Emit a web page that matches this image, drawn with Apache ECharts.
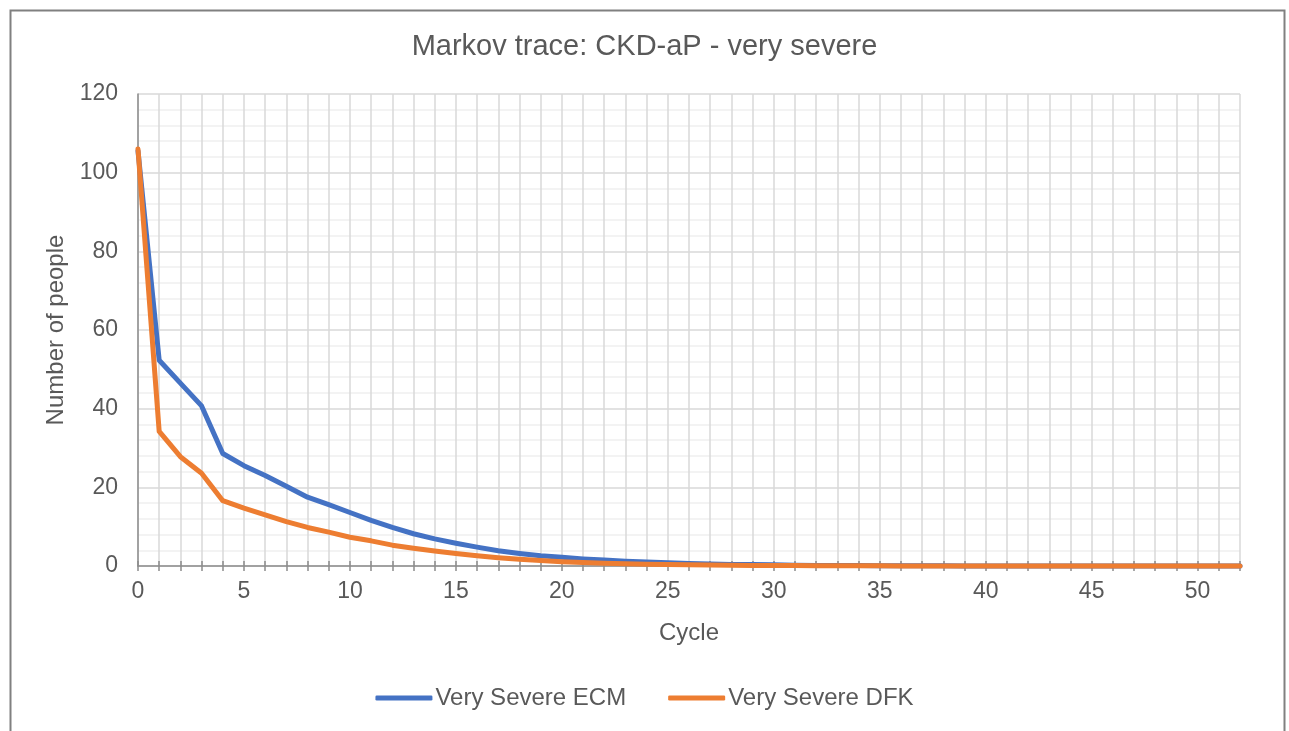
<!DOCTYPE html>
<html>
<head>
<meta charset="utf-8">
<script src="https://cdn.jsdelivr.net/npm/echarts@6/dist/echarts.min.js"></script>
<style>
html,body{margin:0;padding:0;background:#fff;}
#chart{width:1289px;height:731px;}
</style>
</head>
<body>
<div id="chart"></div>
<script>
const titleText = 'Markov trace: CKD-aP - very severe';
const xName = 'Cycle';
const yName = 'Number of people';
const seriesNames = ['Very Severe ECM', 'Very Severe DFK'];
const cycles = Array.from({length: 53}, (_, i) => i);
const ecm = [105.5, 52.3, 46.5, 40.7, 28.6, 25.5, 23.0, 20.3, 17.5, 15.6,
  13.6, 11.6, 9.8, 8.2, 6.9, 5.8, 4.8, 3.9, 3.2, 2.6,
  2.2, 1.8, 1.5, 1.2, 1.0, 0.8, 0.65, 0.5, 0.4, 0.35,
  0.3, 0.2, 0.15, 0.12, 0.1, 0.08, 0.06, 0.05, 0.04, 0.03,
  0.03, 0.02, 0.02, 0.01, 0.01, 0.01, 0.01, 0, 0, 0,
  0, 0, 0];
const dfk = [106, 34.2, 27.8, 23.6, 16.6, 14.7, 13.0, 11.3, 9.8, 8.6,
  7.3, 6.4, 5.3, 4.5, 3.8, 3.2, 2.6, 2.1, 1.7, 1.4,
  1.1, 0.9, 0.7, 0.55, 0.45, 0.35, 0.3, 0.25, 0.2, 0.15,
  0.12, 0.1, 0.08, 0.06, 0.05, 0.04, 0.03, 0.02, 0.02, 0.01,
  0.01, 0.01, 0, 0, 0, 0, 0, 0, 0, 0,
  0, 0, 0];

const FONT = '"Liberation Sans", Arial, sans-serif';
const TXT = '#595959';
const chart = echarts.init(document.getElementById('chart'), null, {renderer: 'canvas'});
const xBase = {
  type: 'value', min: 0, max: 52, interval: 1, gridIndex: 0, position: 'bottom'
};
chart.setOption({
  animation: false,
  backgroundColor: '#fff',
  graphic: [{
    type: 'rect', left: 8, top: 8, z: -1,
    shape: {width: 1274, height: 740},
    style: {fill: 'none', stroke: '#808080', lineWidth: 2}
  }],
  title: {
    text: titleText, left: 'center', top: 27,
    textStyle: {fontFamily: FONT, fontSize: 29, fontWeight: 'normal', color: TXT}
  },
  grid: {left: 138, right: 49, top: 94, bottom: 165, containLabel: false},
  legend: {
    bottom: 16, left: 'center',
    itemWidth: 57, itemHeight: 5, itemGap: 42,
    icon: 'roundRect',
    textStyle: {fontFamily: FONT, fontSize: 24, color: TXT, padding: [0,0,0,-2]},
    data: seriesNames
  },
  xAxis: [
    Object.assign({}, xBase, {
      name: xName, nameLocation: 'middle', nameGap: 55,
      nameTextStyle: {fontFamily: FONT, fontSize: 24, color: TXT},
      axisLine: {show: true, lineStyle: {color: '#8c8c8c', width: 1.5}},
      axisTick: {show: true, inside: false, length: 5, lineStyle: {color: '#8c8c8c', width: 1.5}},
      axisLabel: {
        fontFamily: FONT, fontSize: 23, color: TXT, margin: 14,
        formatter: v => (v % 5 === 0 ? String(v) : '')
      },
      splitLine: {show: true, lineStyle: {color: '#d9d9d9', width: 1.5}}
    }),
    Object.assign({}, xBase, {
      axisLine: {show: false},
      axisTick: {show: true, inside: true, length: 5, lineStyle: {color: '#8c8c8c', width: 1.5}},
      axisLabel: {show: false},
      splitLine: {show: false}
    })
  ],
  yAxis: {
    type: 'value', min: 0, max: 120, interval: 20,
    name: yName, nameLocation: 'middle', nameGap: 69,
    nameTextStyle: {fontFamily: FONT, fontSize: 24, color: TXT},
    axisLine: {show: true, lineStyle: {color: '#8c8c8c', width: 1.5}},
    axisTick: {show: false},
    axisLabel: {fontFamily: FONT, fontSize: 23, color: TXT, margin: 20},
    splitLine: {show: true, lineStyle: {color: '#d9d9d9', width: 1.5}},
    minorTick: {show: false, splitNumber: 5},
    minorSplitLine: {show: true, lineStyle: {color: '#f0f0f0', width: 1.5}}
  },
  series: [
    {
      name: seriesNames[0], type: 'line', xAxisIndex: 0,
      data: cycles.map((c, i) => [c, ecm[i]]),
      showSymbol: false, clip: false,
      lineStyle: {color: '#4472C4', width: 5, cap: 'round', join: 'round'},
      itemStyle: {color: '#4472C4'}
    },
    {
      name: seriesNames[1], type: 'line', xAxisIndex: 0,
      data: cycles.map((c, i) => [c, dfk[i]]),
      showSymbol: false, clip: false,
      lineStyle: {color: '#ED7D31', width: 5, cap: 'round', join: 'round'},
      itemStyle: {color: '#ED7D31'}
    }
  ]
});
</script>
</body>
</html>
